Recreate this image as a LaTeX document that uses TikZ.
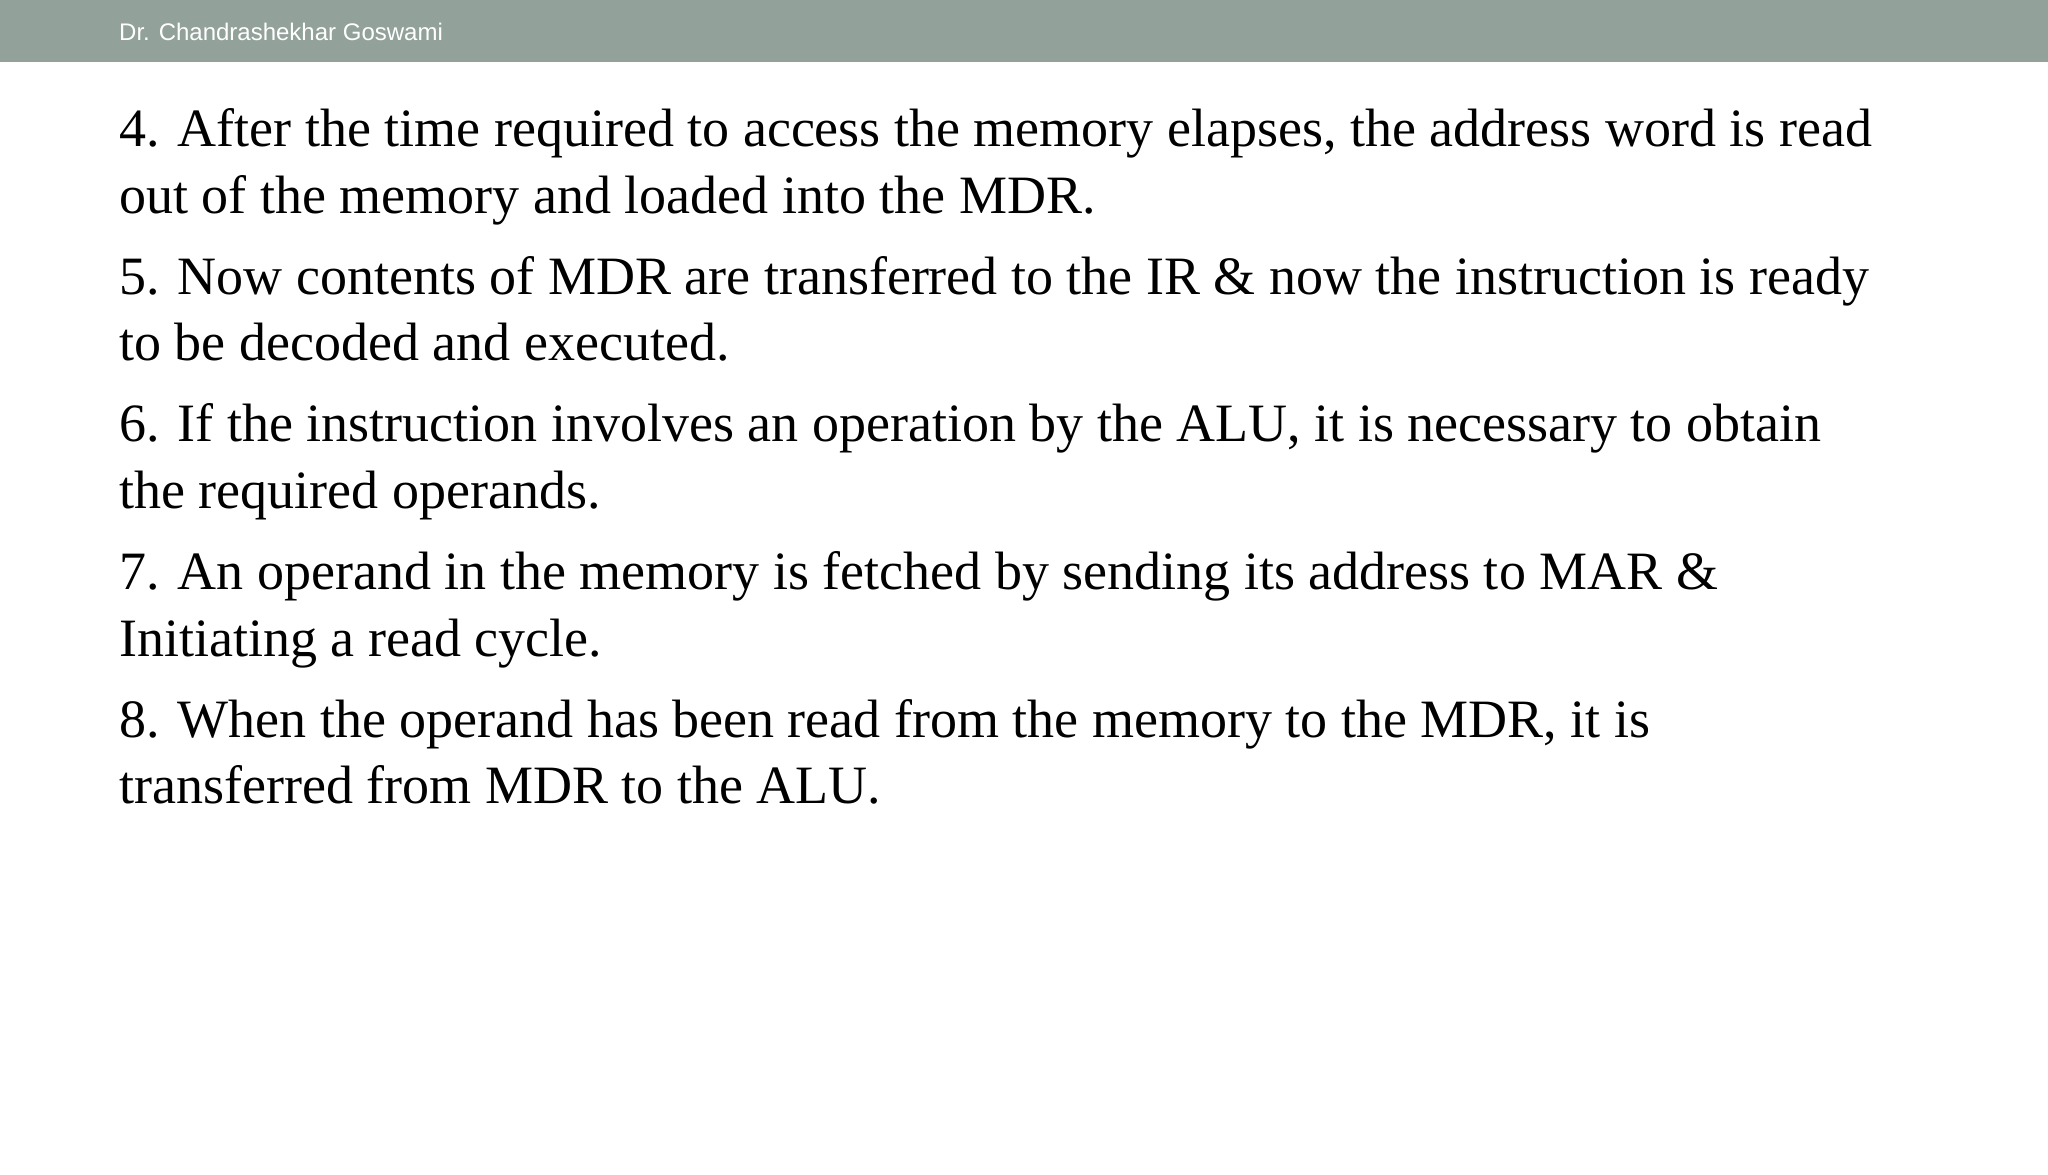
\documentclass[tikz,border=0pt]{standalone}
\usepackage{fontspec}
\setmainfont{Liberation Serif}
\newfontfamily\hdr{Liberation Sans}
\definecolor{bar}{RGB}{146,161,153}
\begin{document}
\begin{tikzpicture}[x=1pt,y=-1pt,
  ln/.style={anchor=base west,inner sep=0pt,font=\fontsize{54}{60}\selectfont}]
\useasboundingbox (0,0) rectangle (2048,1175);
\fill[white] (0,0) rectangle (2048,1175);
\fill[bar] (0,0) rectangle (2048,62);
\node[anchor=base west,inner sep=0pt,text=white,font=\hdr\fontsize{24}{28}\selectfont] (h) at (119,40) {Dr. Chandrashekhar Goswami};
\node[ln] (l1) at (119,146) {4. After the time required to access the memory elapses, the address word is read};
\node[ln] (l2) at (119,213) {out of the memory and loaded into the MDR.};
\node[ln] (l3) at (119,294) {5. Now contents of MDR are transferred to the IR \& now the instruction is ready};
\node[ln] (l4) at (119,360) {to be decoded and executed.};
\node[ln] (l5) at (119,441) {6. If the instruction involves an operation by the ALU, it is necessary to obtain};
\node[ln] (l6) at (119,508) {the required operands.};
\node[ln] (l7) at (119,589) {7. An operand in the memory is fetched by sending its address to MAR \&};
\node[ln] (l8) at (119,656) {Initiating a read cycle.};
\node[ln] (l9) at (119,737) {8. When the operand has been read from the memory to the MDR, it is};
\node[ln] (l10) at (119,803) {transferred from MDR to the ALU.};
\end{tikzpicture}
\end{document}
